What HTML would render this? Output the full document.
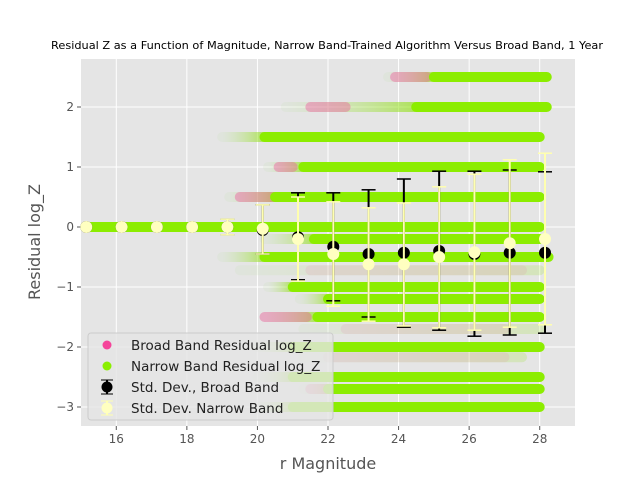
<!DOCTYPE html>
<html><head><meta charset="utf-8"><style>
body{margin:0;background:#fff;width:640px;height:480px;overflow:hidden;font-family:"Liberation Sans","DejaVu Sans",sans-serif}
svg text{font-family:"DejaVu Sans","Liberation Sans",sans-serif}
</style></head><body>
<svg id="c" width="640" height="480" xmlns="http://www.w3.org/2000/svg"></svg>
<script>
// band data (residual level, magnitude extents)
const bandY=[2.5,2.0,1.5,1.0,0.5,0.0,-0.2,-0.5,-0.72,-1.0,-1.2,-1.5,-1.7,-2.0,-2.17,-2.5,-2.7,-3.0];
const bandFade=[23.7,20.8,19.0,20.3,19.2,15.15,20.2,19.0,19.5,20.3,21.2,20.2,21.3,20.0,21.3,20.0,21.3,20.0];
const bandSolid=[25.0,24.5,20.2,21.3,20.5,15.15,21.6,20.2,99,21.0,22.0,21.7,99,21.0,99,21.0,22.0,21.0];
const bandEnd=[28.2,28.2,28.0,28.0,28.0,28.0,28.0,28.25,28.0,28.0,28.0,28.0,28.0,28.0,27.5,28.0,28.0,28.0];
const bandPinkA=[23.9,21.5,0,20.6,19.5,0,0,0,21.5,0,0,20.2,22.5,0,22.0,0,21.5,0];
const bandPinkB=[24.8,22.5,0,21.0,20.5,0,0,0,27.5,0,0,21.4,27.0,0,27.0,0,22.3,0];
// error bar data
const mags=[15.15,16.15,17.15,18.15,19.15,20.15,21.15,22.15,23.15,24.15,25.15,26.15,27.15,28.15];
const bbMean=[0,0,0,0,0,-0.05,-0.17,-0.33,-0.45,-0.43,-0.4,-0.45,-0.43,-0.43];
const bbLo=[0,0,0,0,-0.13,-0.45,-0.88,-1.23,-1.5,-1.67,-1.72,-1.82,-1.8,-1.77];
const bbHi=[0,0,0,0,0.13,0.37,0.57,0.57,0.62,0.8,0.93,0.93,0.95,0.92];
const nbMean=[0,0,0,0,0,-0.03,-0.2,-0.45,-0.62,-0.62,-0.5,-0.42,-0.27,-0.2];
const nbLo=[0,0,0,0,-0.13,-0.45,-0.9,-1.32,-1.57,-1.65,-1.68,-1.72,-1.67,-1.63];
const nbHi=[0,0,0,0,0.13,0.37,0.5,0.42,0.32,0.4,0.67,0.88,1.12,1.23];
const xTicks=[16,18,20,22,24,26,28];
const yTicks=[-3,-2,-1,0,1,2];

const NS="http://www.w3.org/2000/svg";
const svg=document.getElementById('c');
const L=81,R=575,T=59,B=426;
const sx=v=>L+(v-15)*(R-L)/14;
const sy=v=>227-v*60;
function el(t,a,p){const e=document.createElementNS(NS,t);for(const k in a)e.setAttribute(k,a[k]);(p||svg).appendChild(e);return e;}
const defs=el('defs',{});
const cp=el('clipPath',{id:'cp'},defs);el('rect',{x:L,y:T,width:R-L,height:B-T},cp);
const bg=el('rect',{x:L,y:T,width:R-L,height:B-T,fill:'#e5e5e5'});

xTicks.forEach(v=>{const g=el('line',{x1:sx(v),x2:sx(v),y1:T,y2:B,stroke:'#fff','stroke-width':1});

el('line',{x1:sx(v),x2:sx(v),y1:B,y2:B+4,stroke:'#555'});
const t=el('text',{x:sx(v),y:B+17,'font-size':12,fill:'#555','text-anchor':'middle'});t.textContent=v;
});
yTicks.forEach(v=>{const g=el('line',{x1:L,x2:R,y1:sy(v),y2:sy(v),stroke:'#fff','stroke-width':1});

el('line',{x1:L-4,x2:L,y1:sy(v),y2:sy(v),stroke:'#555'});
const t=el('text',{x:L-7,y:sy(v)+4,'font-size':12,fill:'#555','text-anchor':'end'});t.textContent=v<0?'\u2212'+(-v):v;
});
const pg=el('g',{'clip-path':'url(#cp)'});

bandY.forEach((y,i)=>{
  const g=el('g',{},pg);
  
  const solid=bandSolid[i]<90;
  const fa=sx(bandFade[i]), so=solid?sx(bandSolid[i]):sx(bandEnd[i]), en=sx(bandEnd[i]);
  const gid='gr'+i;
  const lg=el('linearGradient',{id:gid,gradientUnits:'userSpaceOnUse',x1:fa,x2:Math.max(so,fa+1),y1:0,y2:0},defs);
  el('stop',{offset:0,'stop-color':'#c8e0b8','stop-opacity':0.2},lg);
  el('stop',{offset:1,'stop-color':'#8ae000','stop-opacity':solid?0.6:0.18},lg);
  el('line',{x1:fa,x2:Math.max(so,fa+0.5),y1:sy(y),y2:sy(y),stroke:'url(#'+gid+')','stroke-width':10,'stroke-linecap':'round'},g);
  if(bandPinkB[i]>0){el('line',{x1:sx(bandPinkA[i]),x2:sx(bandPinkB[i]),y1:sy(y),y2:sy(y),stroke:'#f0509a','stroke-opacity':solid?0.4:0.1,'stroke-width':10,'stroke-linecap':'round'},g);}
  if(solid) el('line',{x1:so,x2:en,y1:sy(y),y2:sy(y),stroke:'#8ced00','stroke-width':10,'stroke-linecap':'round'},g);
});
function bars(mean,lo,hi,col,fill,name,cw){
  mags.forEach((m,i)=>{
    const g=el('g',{});
    
    const x=sx(m);
    if(hi[i]!==lo[i]){
      el('line',{x1:x,x2:x,y1:sy(lo[i]),y2:sy(hi[i]),stroke:col,'stroke-width':cw},g);
      el('line',{x1:x-7,x2:x+7,y1:sy(lo[i]),y2:sy(lo[i]),stroke:col,'stroke-width':1.5},g);
      el('line',{x1:x-7,x2:x+7,y1:sy(hi[i]),y2:sy(hi[i]),stroke:col,'stroke-width':1.5},g);
    }
    el('circle',{cx:x,cy:sy(mean[i]),r:6,fill:fill},g);
  });
}
bars(bbMean,bbLo,bbHi,'#000','#000','broad-band-errorbar',2);
bars(nbMean,nbLo,nbHi,'#ffffb0','#ffffc0','narrow-band-errorbar',2);
// legend
const lgd=el('g',{});
el('rect',{x:88,y:333,width:245,height:87,rx:3,fill:'#e5e5e5','fill-opacity':0.8,stroke:'#ccc'},lgd);
const items=[['Broad Band Residual log_Z','#f5449a','m'],['Narrow Band Residual log_Z','#8aef00','m'],['Std. Dev., Broad Band','#000','e'],['Std. Dev. Narrow Band','#ffffc0','e']];
items.forEach((it,k)=>{const y=345+k*21;const g=el('g',{},lgd);

if(it[2]==='e'){const c=k===2?'#000':'#ffffb0';el('line',{x1:107,x2:107,y1:y-7,y2:y+7,stroke:c,'stroke-width':2},g);
el('line',{x1:101,x2:113,y1:y-7,y2:y-7,stroke:c},g);el('line',{x1:101,x2:113,y1:y+7,y2:y+7,stroke:c},g);}
el('circle',{cx:107,cy:y,r:k<2?4.5:5.5,fill:it[1]},g);
const t=el('text',{x:131,y:y+5,'font-size':13.5,fill:'#222'},g);t.textContent=it[0];});
// titles
const tt=el('text',{x:327,y:49,'font-size':11,fill:'#000','text-anchor':'middle',textLength:552,lengthAdjust:'spacingAndGlyphs'});tt.textContent='Residual Z as a Function of Magnitude, Narrow Band-Trained Algorithm Versus Broad Band, 1 Year';

const xt=el('text',{x:328,y:469,'font-size':16,fill:'#555','text-anchor':'middle'});xt.textContent='r Magnitude';

const yt=el('text',{x:0,y:0,'font-size':16,fill:'#555','text-anchor':'middle',transform:'translate(40,242) rotate(-90)'});yt.textContent='Residual log_Z';

</script>
</body></html>
